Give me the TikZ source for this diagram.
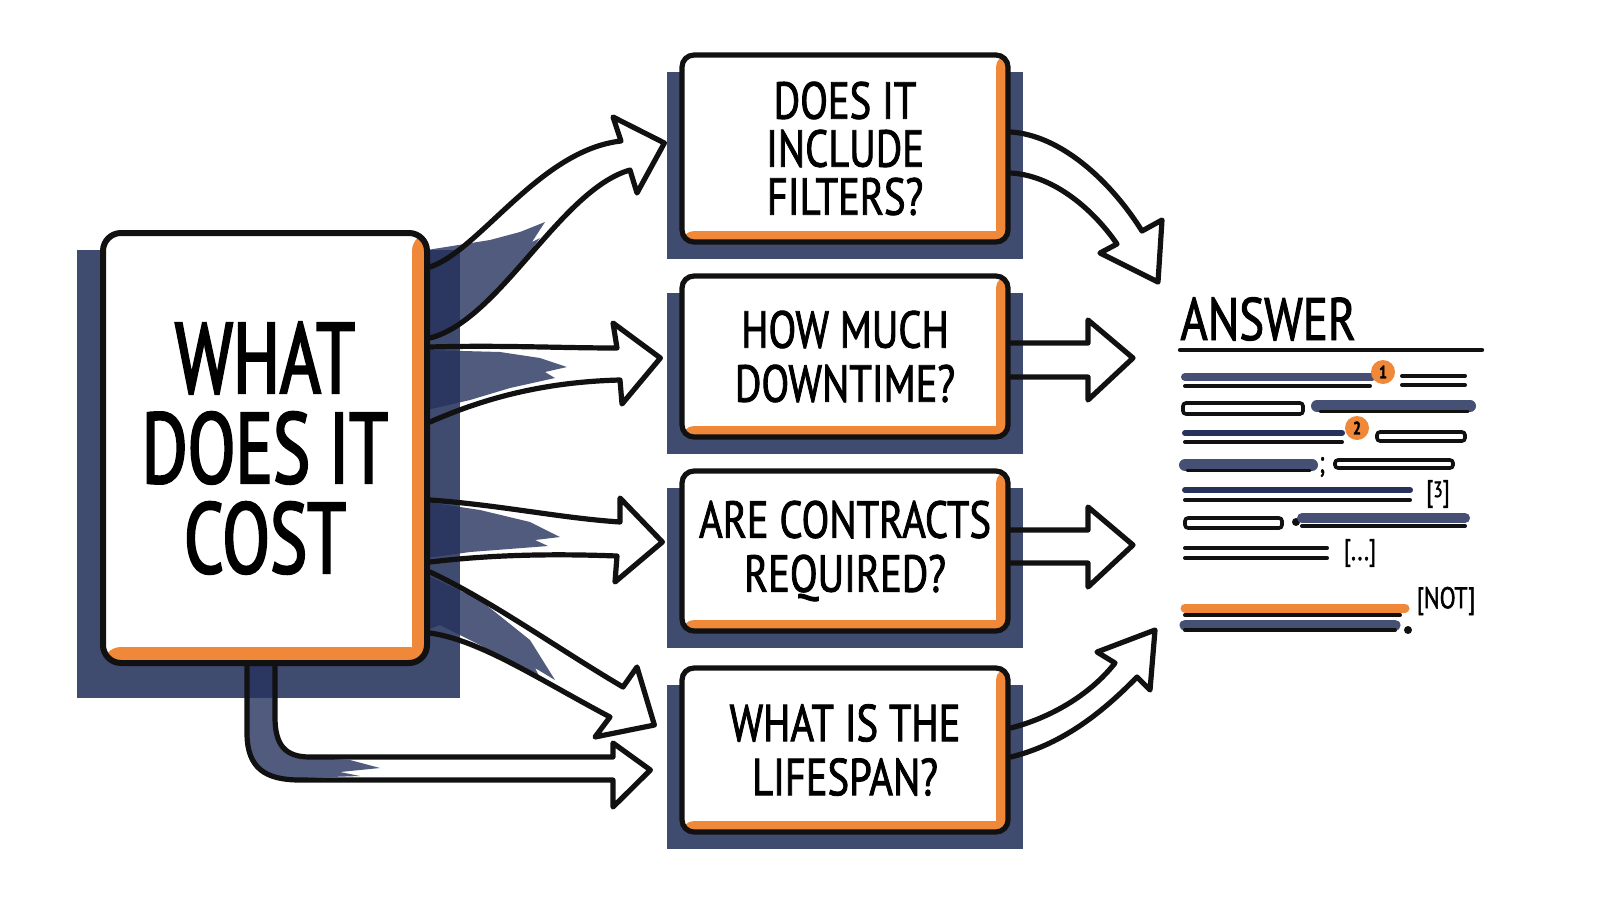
\documentclass[tikz,border=0pt]{standalone}
\usepackage{fontspec}
\newfontfamily\hand{PT Sans}[FakeStretch=0.78, FakeBold=1.6]
\newfontfamily\handmain{PT Sans}[FakeStretch=0.7, FakeBold=2.2]
\usetikzlibrary{calc,backgrounds}
\definecolor{pNavy}{RGB}{38,50,92}
\definecolor{pOrange}{RGB}{240,136,58}
\definecolor{pInk}{RGB}{17,17,17}
\definecolor{pSlate}{RGB}{70,80,116}
\newcommand{\orangeedge}[2]{%
    \fill[pOrange] ([xshift=-#1]path picture bounding box.north east) rectangle (path picture bounding box.south east);
    \fill[pOrange] (path picture bounding box.south west) rectangle ([yshift=#2]path picture bounding box.south east);}
\tikzset{
    mainbox/.style={draw=pInk, line width=3pt, fill=white, rounded corners=9pt, minimum width=162pt, minimum height=215pt,
        align=center, font=\handmain\fontsize{50}{45}\selectfont, path picture={\orangeedge{7.5pt}{8pt}}},
    qbox/.style={draw=pInk, line width=2.6pt, fill=white, rounded corners=6pt, minimum width=163pt,
        align=center, font=\hand\fontsize{26}{27}\selectfont, path picture={\orangeedge{6pt}{5.5pt}}},
    shade/.style={fill=pNavy, opacity=.88},
    smear/.style={fill=pNavy, opacity=.8},
    fat/.style={draw=pInk, line width=2.6pt, line join=round, line cap=round},
    rule/.style={pInk, line width=2pt, line cap=round},
    bar/.style={pSlate, line width=5pt, line cap=round},
    slot/.style={draw=pInk, line width=1.8pt, rounded corners=1.5pt},
    badge/.style={circle, fill=pOrange, minimum size=12pt, inner sep=0pt, font=\hand\bfseries\fontsize{9}{9}\selectfont},
    tag/.style={font=\hand\fontsize{15}{15}\selectfont, inner sep=0pt}
}

\begin{document}
\begin{tikzpicture}[x=0.5pt,y=-0.5pt]
\useasboundingbox (0,0) rectangle (1600,900);

% boxes
\node[mainbox] (cost) at (265,448) {WHAT\\DOES IT\\COST};
\node[qbox, minimum height=93.5pt, font=\hand\fontsize{26}{24}\selectfont] (q1) at (845,148.5) {DOES IT\\INCLUDE\\FILTERS?};
\node[qbox, minimum height=80.5pt] (q2) at (845,356.5) {HOW MUCH\\DOWNTIME?};
\node[qbox, minimum height=80pt] (q3) at (845,551) {ARE CONTRACTS\\REQUIRED?};
\node[qbox, minimum height=82pt] (q4) at (845,750) {WHAT IS THE\\LIFESPAN?};

% brush shadows
\begin{scope}[on background layer]
\fill[shade] ($(cost.north west)+(-23,20)$) rectangle ($(cost.south east)+(30,32)$);
\foreach \q in {q1,q2,q3,q4}
    \fill[shade] ($(\q.north west)+(-12,20)$) rectangle ($(\q.south east)+(12,14)$);
\fill[smear] (427,250) -- (490,240) -- (520,232) -- (545,222) -- (532,242) -- (540,238) -- (515,272)
    -- (490,300) -- (460,325) -- (427,340) -- cycle;
\fill[smear] (427,350) -- (500,352) -- (540,358) -- (567,367) -- (545,372) -- (555,378) -- (510,388)
    -- (470,400) -- (427,410) -- cycle;
\fill[smear] (427,502) -- (480,510) -- (530,522) -- (560,537) -- (535,540) -- (548,546) -- (470,552)
    -- (427,558) -- cycle;
\fill[smear] (427,575) -- (480,600) -- (530,640) -- (555,680) -- (535,668) -- (540,678) -- (480,645)
    -- (440,625) -- (427,630) -- cycle;
\fill[smear] (249,660) -- (273,660) -- (275,717) .. controls (276,745) and (285,757) .. (310,758)
    -- (350,760) -- (380,768) -- (340,772) -- (360,776) -- (300,778) .. controls (262,778) and (250,765) .. (249,733) -- cycle;
\end{scope}

% arrows out of the question
\draw[fat] (cost.east |- 0,267) .. controls (480,250) and (540,150) .. (621,141) -- (613,117)
    -- ($(q1.west)+(-15,-5.5)$) -- (637,193) -- (630,170) .. controls (560,190) and (500,320) .. (cost.east |- 0,338);
\draw[fat] (cost.east |- 0,347) .. controls (500,345) and (560,348) .. (617,348) -- (613,323)
    -- ($(q2.west)+(-19,1.5)$) -- (622,404) -- (620,380) .. controls (540,382) and (480,400) .. (cost.east |- 0,422);
\draw[fat] (cost.east |- 0,500) .. controls (500,505) and (560,518) .. (620,522) -- (620,498)
    -- ($(q3.west)+(-17,-9)$) -- (615,582) -- (617,556) .. controls (540,553) and (480,556) .. (cost.east |- 0,562);
\draw[fat] (cost.east |- 0,572) .. controls (490,600) and (560,650) .. (623,687) -- (637,667)
    -- ($(q4.west)+(-25,-25)$) -- (595,737) -- (610,717) .. controls (540,680) and (480,640) .. (cost.east |- 0,633);
\draw[fat] (cost.south -| 247,0) -- (247,733) .. controls (247,768) and (265,780) .. (300,780) -- (613,780) -- (613,807)
    -- ($(q4.west)+(-29,20)$) -- (613,743) -- (613,757) -- (310,757) .. controls (285,757) and (275,745) .. (275,717)
    -- (cost.south -| 275,0);

% answer block
\node[font=\hand\fontsize{30}{30}\selectfont, anchor=west, inner sep=0pt] (ans) at (1180,319) {ANSWER};
\draw[rule, line width=2.2pt] (ans.west |- 0,350) -- (1482,350);

% arrows into the answer
\draw[fat] (q1.east |- 0,132) .. controls (1060,135) and (1110,180) .. (1142,231) -- (1162,220)
    -- ($(ans.west)+(-22,-37)$) -- (1100,253) -- (1117,244) .. controls (1090,205) and (1050,175) .. (q1.east |- 0,173);
\draw[fat] (q2.east |- 0,343) -- (1088,343) -- (1088,320) -- ($(ans.west)+(-47,39)$) -- (1088,400)
    -- (1088,377) -- (q2.east |- 0,377);
\draw[fat] (q3.east |- 0,530) -- (1088,530) -- (1088,507) -- ($(ans.west)+(-47,226)$) -- (1088,587)
    -- (1088,563) -- (q3.east |- 0,563);
\draw[fat] (q4.east |- 0,728) .. controls (1050,718) and (1090,695) .. (1115,663) -- (1097,652)
    -- ($(ans.west)+(-25,311)$) -- (1150,690) -- (1137,677) .. controls (1100,715) and (1060,745) .. (q4.east |- 0,757);

% answer lines
\draw[bar, line width=4pt] (1185,377) -- (1372,377);
\draw[rule] (1185,386) -- (1370,386);
\node[badge] (n1) at (1383,372) {1};
\draw[rule] (1402,376) -- (1465,376);
\draw[rule] (1402,385) -- (1465,385);

\draw[slot] (1183,403) rectangle (1303,414);
\draw[bar, line width=6pt] (1317,406) -- (1470,406);
\draw[rule, line width=1.5pt] (1320,411) -- (1468,411);

\draw[rule, pNavy, line width=3pt] (1185,433) -- (1342,433);
\draw[rule] (1185,442) -- (1342,442);
\node[badge] (n2) at (1357,428) {2};
\draw[slot] (1377,432) rectangle (1465,441);

\draw[bar, line width=6pt] (1185,465) -- (1312,465);
\draw[rule, line width=1.5pt] (1187,470) -- (1310,470);
\node[tag] (semi) at (1322,467) {;};
\draw[slot] (1335,460) rectangle (1453,468);

\draw[rule, pNavy, line width=3pt] (1185,490) -- (1410,490);
\draw[rule] (1185,500) -- (1410,500);
\node[tag] (t3) at (1438,494) {[\raisebox{2pt}{\fontsize{11}{11}\selectfont 3}]};

\draw[slot] (1185,518) rectangle (1282,528);
\fill[pInk] (1296,522) circle (2pt);
\draw[bar, line width=5pt] (1302,518) -- (1465,518);
\draw[rule] (1302,526) -- (1465,526);

\draw[rule] (1185,548) -- (1327,548);
\draw[rule] (1185,558) -- (1327,558);
\node[tag] (tdots) at (1360,553) {[...]};

\draw[pOrange, line width=4.5pt, line cap=round] (1185,608) -- (1405,608);
\draw[rule] (1185,615) -- (1400,615);
\draw[bar, line width=5.5pt] (1185,625) -- (1395,625);
\draw[rule] (1185,630) -- (1395,630);
\fill[pInk] (1408,630) circle (2pt);
\node[tag] (tnot) at (1446,601) {[NOT]};
\end{tikzpicture}
\end{document}
